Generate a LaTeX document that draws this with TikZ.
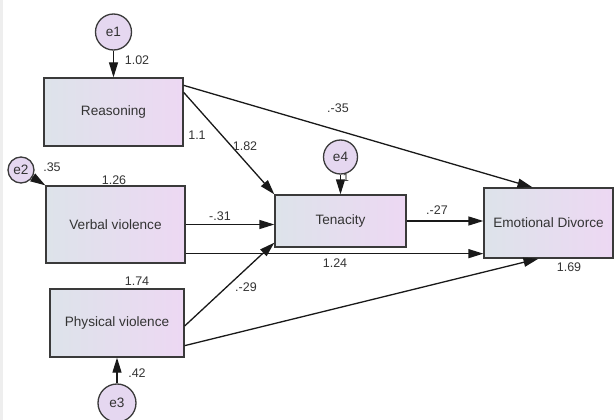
\documentclass[tikz,border=0pt]{standalone}
\usepackage{fontspec}
\setmainfont{Liberation Sans}
\usepackage{xcolor}
\usetikzlibrary{arrows.meta}

\definecolor{boxleft}{HTML}{DDE3EA}
\definecolor{boxright}{HTML}{EDD8F3}
\definecolor{errfill}{HTML}{E5D7F0}
\definecolor{edge}{HTML}{3A3A3A}
\definecolor{stripgray}{HTML}{EEEEEE}

\tikzset{
    varbox/.style={draw=edge, line width=1.3pt, left color=boxleft, right color=boxright,
        inner sep=0pt, font=\fontsize{13.6}{15}\selectfont, text=black!80},
    errcirc/.style={circle, draw=edge, line width=1.3pt, fill=errfill, inner sep=0pt,
        font=\fontsize{13.6}{15}\selectfont, text=black!80},
    coef/.style={font=\fontsize{12.5}{14}\selectfont, text=black!80, inner sep=0pt},
    path/.style={line width=1.3pt, draw=black!90, -{Triangle[length=15pt,width=9pt]}}
}

\begin{document}
\begin{tikzpicture}[x=1pt, y=-1pt]

    % Fix the canvas
    \useasboundingbox (0,0) rectangle (614,420);
    \fill[white] (0,0) rectangle (614,420);
    \fill[stripgray] (0,0) rectangle (3,420);

    % Draw the observed variables (boxes)
    \node[varbox, minimum width=139pt, minimum height=68pt] (reason) at (113.5,112) {Reasoning};
    \node[varbox, minimum width=139pt, minimum height=77pt] (verbal) at (115.5,224.5) {Verbal violence};
    \node[varbox, minimum width=134pt, minimum height=68pt] (physical) at (117,323) {Physical violence};
    \node[varbox, minimum width=131pt, minimum height=52pt] (tenacity) at (340.5,221) {Tenacity};
    \node[varbox, minimum width=129pt, minimum height=70pt] (divorce) at (548.5,223) {Emotional Divorce};

    % Draw the error terms (circles)
    \node[errcirc, minimum size=36pt] (e1) at (113.5,32) {e1};
    \node[errcirc, minimum size=26pt] (e2) at (21,170) {e2};
    \node[errcirc, minimum size=38pt] (e3) at (117,403) {e3};
    \node[errcirc, minimum size=34pt] (e4) at (340.5,157) {e4};

    % Error arrows
    \draw[path] (e1) -- (reason.north);
    \draw[path] (e2) -- (verbal.north west);
    \draw[path] (e3) -- (physical.south);
    \draw[path] (e4) -- (tenacity.north);

    % Paths between the variables
    \draw[path] ([yshift=-8pt]reason.north east) -- ([xshift=-16pt]divorce.north);
    \draw[path] ([yshift=-15pt]reason.north east) -- (tenacity.north west);
    \draw[path] (verbal.east) -- (verbal.east -| tenacity.west);
    \draw[path] ([yshift=10pt]verbal.south east) -- ([yshift=10pt]verbal.south east -| divorce.west);
    \draw[path] ([yshift=-3pt]physical.east) -- ([yshift=5pt]tenacity.south west);
    \draw[path] ([yshift=12pt]physical.south east) -- ([xshift=-10pt]divorce.south);
    \draw[path] (tenacity.east) -- (tenacity.east -| divorce.west);

    % Coefficients
    \node[coef] (c-e1) at (137,60) {1.02};
    \node[coef] (c-reason) at (197,135) {1.1};
    \node[coef] (c-rt) at (245,146) {1.82};
    \node[coef] (c-e2) at (52,167) {.35};
    \node[coef] (c-verbal) at (114,180) {1.26};
    \node[coef] (c-vt) at (220,216) {-.31};
    \node[coef] (c-vd) at (335,263) {1.24};
    \node[coef] (c-physical) at (137,281) {1.74};
    \node[coef] (c-pt) at (246,287) {.-29};
    \node[coef] (c-e3) at (137,373) {.42};
    \node[coef, font=\fontsize{11}{12}\selectfont] (c-e4) at (346,178) {1};
    \node[coef] (c-td) at (437,210) {.-27};
    \node[coef] (c-rd) at (338,108) {.-35};
    \node[coef] (c-divorce) at (569,267) {1.69};

\end{tikzpicture}
\end{document}
